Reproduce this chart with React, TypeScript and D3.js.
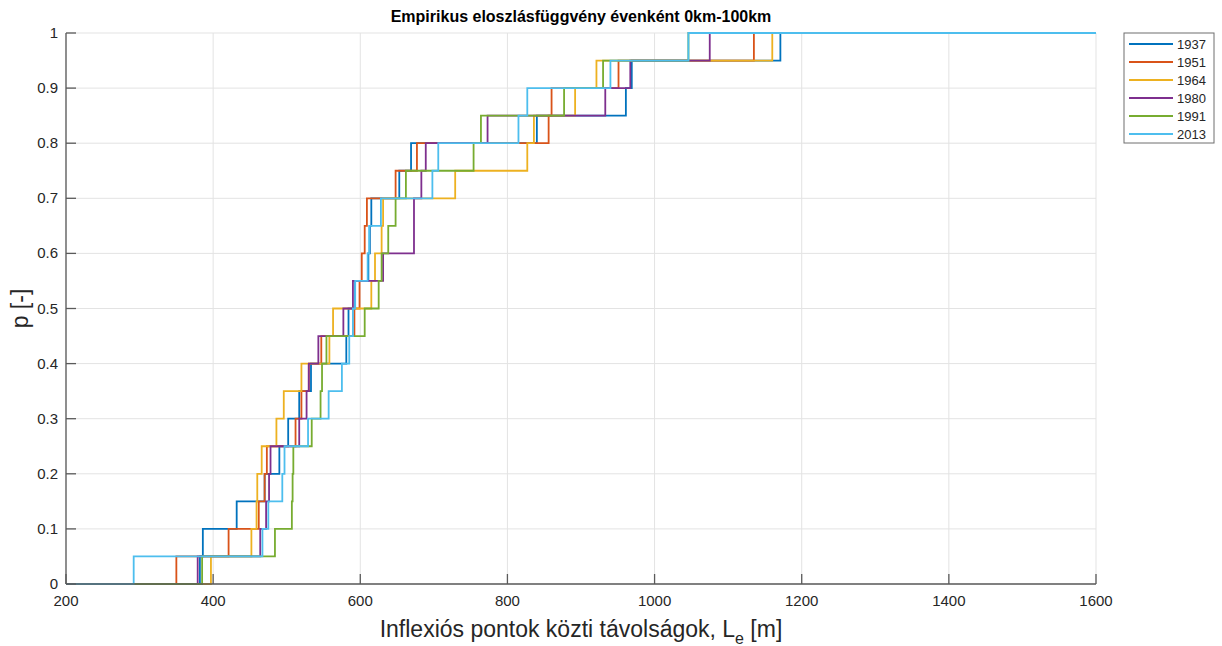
import React from "react";
import * as d3 from "d3";

// Sorted inflection-point distances (m) per survey year; each step adds 1/20 to p.
const years = ["1937", "1951", "1964", "1980", "1991", "2013"];

const d1937 = [382, 386, 432, 470, 490, 502, 517, 533, 581, 584, 593, 611, 613, 615, 653, 669, 840, 961, 969, 1171];
const d1951 = [350, 421, 462, 470, 473, 512, 520, 530, 547, 592, 599, 602, 606, 609, 648, 677, 856, 860, 951, 1135];
const d1964 = [397, 452, 459, 460, 466, 486, 496, 520, 558, 563, 615, 620, 629, 631, 729, 827, 836, 892, 921, 1160];
const d1980 = [379, 464, 472, 476, 478, 517, 527, 530, 543, 577, 590, 631, 673, 673, 683, 689, 773, 933, 967, 1075];
const d1991 = [385, 484, 507, 508, 509, 534, 546, 548, 554, 606, 625, 629, 638, 648, 662, 754, 764, 877, 930, 1046];
const d2013 = [292, 467, 475, 494, 497, 529, 557, 575, 585, 590, 593, 610, 612, 628, 698, 706, 815, 827, 940, 1046];

const seriesData = [d1937, d1951, d1964, d1980, d1991, d2013];
const colors = ["#0072BD", "#D95319", "#EDB120", "#7E2F8E", "#77AC30", "#4DBEEE"];

const xTicks = [200, 400, 600, 800, 1000, 1200, 1400, 1600];
const yTicks = [0, 0.1, 0.2, 0.3, 0.4, 0.5, 0.6, 0.7, 0.8, 0.9, 1];

const W = 1222;
const H = 646;
const left = 66;
const right = 1096;
const top = 33;
const bottom = 584;

export default function App() {
  const x = d3.scaleLinear().domain([200, 1600]).range([left, right]);
  const y = d3.scaleLinear().domain([0, 1]).range([bottom, top]);

  const line = d3
    .line<[number, number]>()
    .x((d) => x(d[0]))
    .y((d) => y(d[1]))
    .curve(d3.curveStepAfter);

  const paths = seriesData.map((vals) => {
    const n = vals.length;
    const pts: [number, number][] = [[200, 0]];
    vals.forEach((v, i) => pts.push([v, (i + 1) / n]));
    pts.push([1600, 1]);
    return line(pts) as string;
  });

  const font = "'Liberation Sans', Arial, Helvetica, sans-serif";
  const axisColor = "#5a5a5a";
  const textColor = "#262626";

  return (
    <svg
      width={W}
      height={H}
      style={{ position: "absolute", left: 0, top: 0, background: "#fff" }}
      fontFamily={font}
    >
      <rect x={0} y={0} width={W} height={H} fill="#fff" />
      {/* grid */}
      {xTicks.map((t) => (
        <line key={"gx" + t} x1={x(t)} x2={x(t)} y1={top} y2={bottom} stroke="#e3e3e3" strokeWidth={1} />
      ))}
      {yTicks.map((t) => (
        <line key={"gy" + t} x1={left} x2={right} y1={y(t)} y2={y(t)} stroke="#e3e3e3" strokeWidth={1} />
      ))}

      {/* stair curves */}
      {paths.map((p, i) => (
        <path key={years[i]} d={p} fill="none" stroke={colors[i]} strokeWidth={1.8} />
      ))}

      {/* axes */}
      <line x1={left} x2={left} y1={top} y2={bottom} stroke={axisColor} strokeWidth={1.3} />
      <line x1={left} x2={right} y1={bottom} y2={bottom} stroke={axisColor} strokeWidth={1.3} />
      {xTicks.map((t) => (
        <g key={"xt" + t}>
          <line x1={x(t)} x2={x(t)} y1={bottom} y2={bottom - 10} stroke={axisColor} strokeWidth={1.3} />
          <text x={x(t)} y={bottom + 22} textAnchor="middle" fontSize={15} fill={textColor}>
            {t}
          </text>
        </g>
      ))}
      {yTicks.map((t) => (
        <g key={"yt" + t}>
          <line x1={left} x2={left + 10} y1={y(t)} y2={y(t)} stroke={axisColor} strokeWidth={1.3} />
          <text x={left - 8} y={y(t) + 5} textAnchor="end" fontSize={15} fill={textColor}>
            {d3.format("~g")(t)}
          </text>
        </g>
      ))}

      {/* titles */}
      <text x={(left + right) / 2} y={22} textAnchor="middle" fontSize={16} fontWeight="bold" fill="#000">
        Empirikus eloszlásfüggvény évenként 0km-100km
      </text>
      <text x={(left + right) / 2} y={637} textAnchor="middle" fontSize={23} fill={textColor}>
        Inflexiós pontok közti távolságok, L
        <tspan fontSize={16} dy={7}>e</tspan>
        <tspan dy={-7}> [m]</tspan>
      </text>
      <text
        transform={`translate(28, ${(top + bottom) / 2}) rotate(-90)`}
        textAnchor="middle"
        fontSize={23}
        fill={textColor}
      >
        p [-]
      </text>

      {/* legend */}
      <g transform="translate(1124, 33)">
        <rect x={0} y={0} width={90} height={110} fill="#fff" stroke="#6e6e6e" strokeWidth={1} />
        {years.map((yr, i) => (
          <g key={"lg" + yr} transform={`translate(0, ${11 + i * 18})`}>
            <line x1={5} x2={49} y1={0} y2={0} stroke={colors[i]} strokeWidth={1.8} />
            <text x={53} y={5} fontSize={13} fill={textColor}>
              {yr}
            </text>
          </g>
        ))}
      </g>
    </svg>
  );
}
